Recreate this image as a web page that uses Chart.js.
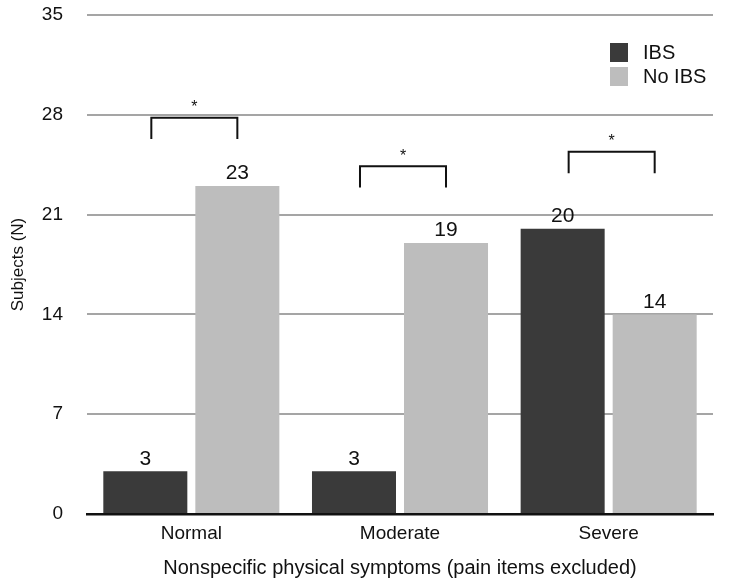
<!DOCTYPE html>
<html>
<head>
<meta charset="UTF-8" />
<title>Nonspecific physical symptoms</title>
<script src="https://cdn.jsdelivr.net/npm/chart.js"></script>
<style>
    html, body { margin: 0; padding: 0; background: #fff; }
    #wrap { width: 729px; height: 584px; }
</style>
</head>
<body>
<div id="wrap"><canvas id="chart" width="729" height="584"></canvas></div>

<script>
const categories = ["Normal", "Moderate", "Severe"];
const ibsValues = [3, 3, 20];
const noIbsValues = [23, 19, 14];
const yTicks = [0, 7, 14, 21, 28, 35];
// significance brackets: top level and leg bottom, in data units
const sigTop = [27.8, 24.4, 25.4];
const sigBottom = [26.3, 22.9, 23.9];

const FONT = "'Liberation Sans', Arial, Helvetica, sans-serif";

const annotations = {
    id: 'annotations',
    afterDatasetsDraw(chart) {
        const ctx = chart.ctx;
        const y = chart.scales.y;
        ctx.save();
        ctx.fillStyle = '#111';
        ctx.font = '21px ' + FONT;
        ctx.textAlign = 'center';
        ctx.textBaseline = 'bottom';
        chart.data.datasets.forEach((ds, di) => {
            chart.getDatasetMeta(di).data.forEach((bar, i) => {
                ctx.fillText(String(ds.data[i]), bar.x, bar.y - 2);
            });
        });

        // brackets
        const m0 = chart.getDatasetMeta(0).data;
        const m1 = chart.getDatasetMeta(1).data;
        ctx.strokeStyle = '#111';
        ctx.lineWidth = 2;
        ctx.font = '16px ' + FONT;
        categories.forEach((c, i) => {
            const x1 = m0[i].x + 6, x2 = m1[i].x;
            const yt = y.getPixelForValue(sigTop[i]);
            const yb = y.getPixelForValue(sigBottom[i]);
            ctx.beginPath();
            ctx.moveTo(x1, yb);
            ctx.lineTo(x1, yt);
            ctx.lineTo(x2, yt);
            ctx.lineTo(x2, yb);
            ctx.stroke();
            ctx.fillText('*', (x1 + x2) / 2, yt - 2);
        });

        // legend
        ctx.textAlign = 'left';
        ctx.textBaseline = 'middle';
        ctx.font = '20px ' + FONT;
        chart.data.datasets.forEach((ds, di) => {
            const top = 43 + di * 24;
            ctx.fillStyle = ds.backgroundColor;
            ctx.fillRect(610, top, 18, 19);
            ctx.fillStyle = '#111';
            ctx.fillText(ds.label, 643, top + 10);
        });
        ctx.restore();
    }
};

new Chart(document.getElementById('chart'), {
    type: 'bar',
    data: {
        labels: categories,
        datasets: [
            { label: 'IBS', data: ibsValues, backgroundColor: '#3a3a3a' },
            { label: 'No IBS', data: noIbsValues, backgroundColor: '#bdbdbd' }
        ]
    },
    options: {
        responsive: false,
        animation: false,
        layout: { padding: { top: 15, right: 16, left: 0, bottom: 0 } },
        datasets: { bar: { categoryPercentage: 0.882, barPercentage: 0.913 } },
        plugins: {
            legend: { display: false },
            tooltip: { enabled: false }
        },
        scales: {
            x: {
                grid: { display: false, drawTicks: false },
                border: { color: '#111', width: 2.5 },
                ticks: { color: '#111', font: { family: FONT, size: 19 }, padding: 8 },
                title: {
                    display: true,
                    text: 'Nonspecific physical symptoms (pain items excluded)',
                    color: '#111',
                    font: { family: FONT, size: 20 },
                    padding: { top: 12 }
                },
                afterFit(scale) { scale.height = 70; }
            },
            y: {
                min: 0,
                max: 35,
                afterBuildTicks(scale) { scale.ticks = yTicks.map(v => ({ value: v })); },
                grid: {
                    drawTicks: true,
                    tickLength: 24,
                    tickColor: 'rgba(0,0,0,0)',
                    lineWidth: 2,
                    color: c => c.tick && c.tick.value === 0 ? 'rgba(0,0,0,0)' : '#a5a5a5'
                },
                border: { display: false },
                ticks: { color: '#111', font: { family: FONT, size: 19 }, padding: 0 },
                title: {
                    display: true,
                    text: 'Subjects (N)',
                    color: '#111',
                    font: { family: FONT, size: 17 },
                    padding: { top: 8, bottom: 0 }
                },
                afterFit(scale) { scale.width = 87; }
            }
        }
    },
    plugins: [annotations]
});
</script>
</body>
</html>
